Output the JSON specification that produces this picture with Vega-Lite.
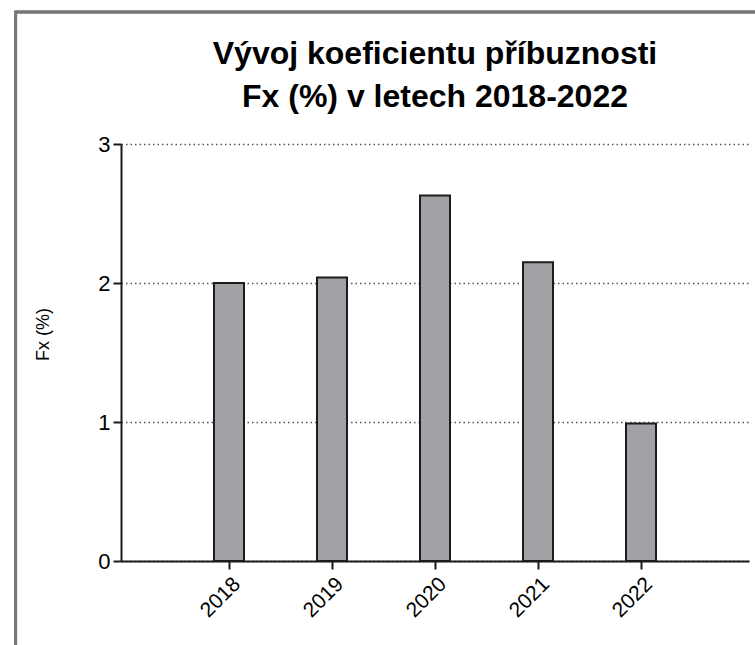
{
  "$schema": "https://vega.github.io/schema/vega-lite/v6.json",
  "autosize": {"type": "none"},
  "width": 628,
  "height": 417,
  "padding": {"left": 121, "top": 144, "right": 6, "bottom": 84},
  "background": "white",
  "config": {
    "view": {"stroke": null},
    "font": "Liberation Sans"
  },
  "title": {
    "text": ["Vývoj koeficientu příbuznosti", "Fx (%) v letech 2018-2022"],
    "font": "Liberation Sans",
    "fontSize": 32,
    "fontWeight": "bold",
    "color": "#000000",
    "anchor": "middle",
    "frame": "group",
    "baseline": "alphabetic",
    "lineHeight": 43,
    "offset": -128
  },
  "data": {
    "values": [
      {"year": 2018, "fx": 2.0},
      {"year": 2019, "fx": 2.04},
      {"year": 2020, "fx": 2.63},
      {"year": 2021, "fx": 2.15},
      {"year": 2022, "fx": 0.99}
    ]
  },
  "layer": [
    {
      "mark": {"type": "rect", "fill": null, "stroke": "#767676", "strokeWidth": 2.5, "clip": false},
      "encoding": {
        "x": {"datum": 2015.93, "type": "quantitative"},
        "x2": {"datum": 2023.3},
        "y": {"datum": 3.95, "type": "quantitative"},
        "y2": {"datum": -0.75}
      }
    },
    {
      "mark": {"type": "bar", "size": 30, "fill": "#a2a2a6", "stroke": "#1c1c1c", "strokeWidth": 2},
      "encoding": {
        "x": {
          "field": "year",
          "type": "quantitative",
          "scale": {"domain": [2017, 2023], "nice": false, "zero": false},
          "axis": {
            "values": [2018, 2019, 2020, 2021, 2022],
            "format": "d",
            "title": null,
            "grid": false,
            "labelAngle": -45,
            "labelFontSize": 21,
            "labelColor": "#000000",
            "labelPadding": 4,
            "labelFlush": false,
            "labelOverlap": false,
            "domainColor": "#1a1a1a",
            "domainWidth": 2,
            "tickColor": "#1a1a1a",
            "tickWidth": 2,
            "tickSize": 8
          }
        },
        "y": {
          "field": "fx",
          "type": "quantitative",
          "scale": {"domain": [0, 3], "nice": false},
          "axis": {
            "values": [0, 1, 2, 3],
            "format": "d",
            "title": "Fx (%)",
            "titleFontSize": 18,
            "titleFontWeight": "normal",
            "titleColor": "#000000",
            "titlePadding": 45,
            "titleY": 190,
            "labelFontSize": 22,
            "labelColor": "#000000",
            "labelPadding": 3,
            "grid": true,
            "gridColor": "#555555",
            "gridDash": [1.5, 3],
            "gridWidth": 1.3,
            "domainColor": "#1a1a1a",
            "domainWidth": 2,
            "tickColor": "#1a1a1a",
            "tickWidth": 2,
            "tickSize": 8
          }
        }
      }
    }
  ]
}
